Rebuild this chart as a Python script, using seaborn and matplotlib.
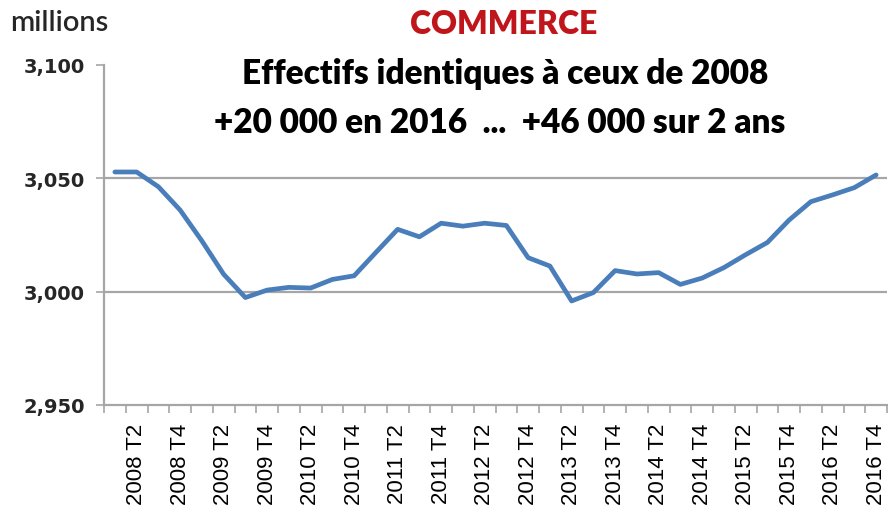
import matplotlib
matplotlib.use("Agg")
import matplotlib.pyplot as plt
import seaborn as sns
import pandas as pd
import numpy as np
from matplotlib.ticker import FixedLocator

years = list(range(2008, 2017))
quarters = [f"{y} T{q}" for y in years for q in range(1, 5)]
values = [3052.8, 3052.8, 3046.3, 3036.0, 3022.4, 3007.7, 2997.4, 3000.7, 3001.9,
          3001.6, 3005.4, 3007.0, 3017.3, 3027.5, 3024.2, 3030.2, 3028.9, 3030.2,
          3029.2, 3015.0, 3011.3, 2995.9, 2999.6, 3009.3, 3007.8, 3008.4, 3003.2,
          3006.0, 3010.6, 3016.3, 3021.7, 3031.6, 3039.7, 3042.7, 3045.9, 3051.5]
ytick_values = [2950, 3000, 3050, 3100]
ytick_labels = ["2,950", "3,000", "3,050", "3,100"]
title_main = "COMMERCE"
subtitle1 = "Effectifs identiques à ceux de 2008"
subtitle2 = "+20 000 en 2016  ...  +46 000 sur 2 ans"
unit_label = "millions"

df = pd.DataFrame({"quarter": quarters, "value": values, "idx": np.arange(len(quarters))})

sns.set_theme(style="white")
plt.rcParams['font.family'] = ['Liberation Sans', 'DejaVu Sans']

W, H = 888, 510
fig = plt.figure(figsize=(W / 100, H / 100), dpi=100)
ax = fig.add_axes([104 / W, 1 - 406 / H, (887 - 104) / W, (406 - 66) / H])

sns.lineplot(data=df, x="idx", y="value", ax=ax, color="#4A7EBB", linewidth=3.4,
             sort=False, solid_capstyle="round", solid_joinstyle="round")

ax.set_xlim(-0.5, len(quarters) - 0.5)
ax.set_ylim(2950, 3100)
ax.set_xlabel("")
ax.set_ylabel("")

# y axis
ax.set_yticks(ytick_values)
ax.set_yticklabels(ytick_labels, fontfamily=["DejaVu Sans"], fontweight="bold", fontsize=14)
for yv in ytick_values[1:3]:
    ax.axhline(yv, color="#A6A6A6", linewidth=1.6, zorder=0)
ax.tick_params(axis="y", which="major", length=6, width=1.2, color="#A6A6A6", pad=8, direction="out", left=True)

# x axis
ax.xaxis.set_minor_locator(FixedLocator(np.arange(-0.5, len(quarters), 1.0)))
label_idx = list(range(1, len(quarters), 2))
ax.set_xticks(label_idx)
ax.set_xticklabels([quarters[i] for i in label_idx], rotation=90, fontsize=16, color="black")
ax.tick_params(axis="x", which="major", length=0, pad=13)
ax.tick_params(axis="x", which="minor", length=6, width=1.2, color="#A6A6A6", direction="out", bottom=True)

for side in ["top", "right"]:
    ax.spines[side].set_visible(False)
for side in ["left", "bottom"]:
    ax.spines[side].set_color("#A6A6A6")
    ax.spines[side].set_linewidth(1.6)

fig.text(10 / W, 1 - 23 / H, unit_label, fontsize=21, fontfamily=["Lato", "DejaVu Sans"],
         fontweight="semibold", ha="left", va="center")
fig.text(504 / W, 1 - 25 / H, title_main, fontsize=23, fontfamily=["Lato", "DejaVu Sans"],
         fontweight="heavy", color="#C0161B", ha="center", va="center")
fig.text(505 / W, 1 - 74 / H, subtitle1, fontsize=24, fontfamily=["Lato", "DejaVu Sans"],
         fontweight="heavy", color="black", ha="center", va="center")
fig.text(500 / W, 1 - 123 / H, subtitle2, fontsize=24, fontfamily=["Lato", "DejaVu Sans"],
         fontweight="heavy", color="black", ha="center", va="center")

fig.savefig("out.png", dpi=100)
